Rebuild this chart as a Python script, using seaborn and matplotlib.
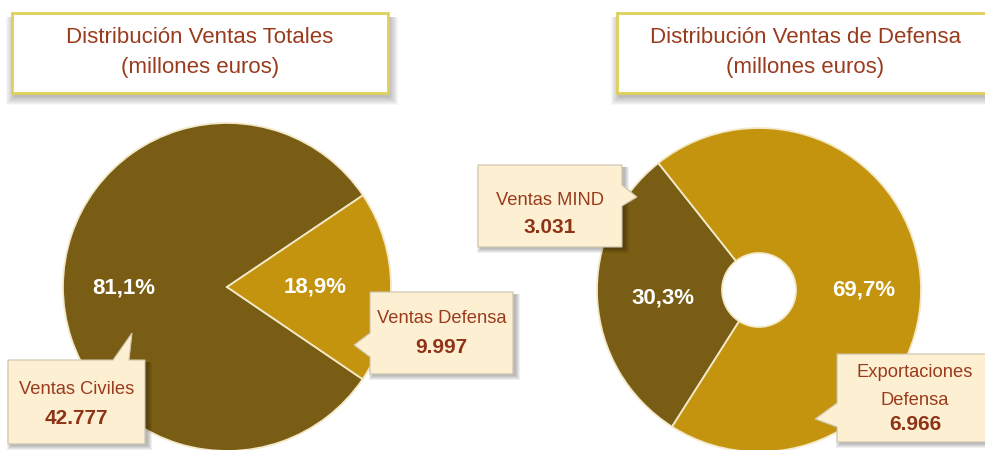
import numpy as np
import pandas as pd
import matplotlib
matplotlib.use("Agg")
import matplotlib.pyplot as plt
import seaborn as sns
from matplotlib import font_manager
from matplotlib.patches import Rectangle, Polygon

# Data
total_labels = ['Ventas Civiles', 'Ventas Defensa']
total_values = [42777, 9997]
defensa_labels = ['Ventas MIND', 'Exportaciones\nDefensa']
defensa_values = [3031, 6966]
titles = ['Distribución Ventas Totales\n(millones euros)',
          'Distribución Ventas de Defensa\n(millones euros)']

# Colours
dark = '#7a5d14'
gold = '#c4940e'
text_red = '#9b3b1e'
cream = '#fdf0d2'

sns.set_theme(style='white')
names = {f.name for f in font_manager.fontManager.ttflist}
narrow = 'Liberation Sans Narrow' in names
label_font = 'Liberation Sans Narrow' if narrow else 'Liberation Sans'
plt.rcParams['font.family'] = [label_font, 'DejaVu Sans']
title_size = 17 if narrow else 16
call_size = 16 if narrow else 13.2
num_size = 16 if narrow else 15

W, H = 985, 450
fig = plt.figure(figsize=(9.85, 4.5), dpi=100)
ax = fig.add_axes([0, 0, 1, 1])


def Y(y):
    return H - y


def shadow(x0, y0, x1, y1, steps=7, alpha=0.035, dx=2, dy=3):
    for k in range(steps):
        ax.add_patch(Rectangle((x0 - k + dx, Y(y1 + dy + k)), (x1 - x0) + 2 * k,
                               (y1 - y0) + k, facecolor='black', edgecolor='none',
                               alpha=alpha, zorder=1))


def callout(x0, y0, x1, y1, pointer, lines, zorder=5):
    # pointer: side of the box and three outline points (image coords)
    shadow(x0, y0, x1, y1, steps=5, alpha=0.06, dx=3, dy=2)
    side, pts = pointer
    if side == 'top':
        outline = [(x0, y0)] + pts + [(x1, y0), (x1, y1), (x0, y1)]
    elif side == 'right':
        outline = [(x0, y0), (x1, y0)] + pts + [(x1, y1), (x0, y1)]
    else:
        outline = [(x0, y0), (x1, y0), (x1, y1), (x0, y1)] + pts[::-1]
    ax.add_patch(Polygon([(x, Y(y)) for x, y in outline], closed=True,
                         facecolor=cream, edgecolor='#cbc3ab', linewidth=0.8,
                         zorder=zorder))
    cx = (x0 + x1) / 2
    for txt, yb, bold in lines:
        if bold:
            ax.text(cx, Y(yb), txt, ha='center', va='baseline', color='#8f3317',
                    fontsize=num_size, fontweight='bold', zorder=zorder + 1)
        else:
            ax.text(cx, Y(yb), txt, ha='center', va='baseline', color=text_red,
                    fontsize=call_size, zorder=zorder + 1)


def fmt_num(v):
    return f'{v:,}'.replace(',', '.')


def fmt_pct(v, tot):
    return f'{100 * v / tot:.1f}%'.replace('.', ',')


# Title boxes
for (x0, x1), title in zip([(12, 388), (617, 993)], titles):
    shadow(x0, 13, x1, 93, steps=9, alpha=0.03, dy=4)
    ax.add_patch(Rectangle((x0, Y(93)), x1 - x0, 80, facecolor='white',
                           edgecolor='#e0d05a', linewidth=2.0, zorder=2))
    l1, l2 = title.split('\n')
    cx = (x0 + x1) / 2
    ax.text(cx, Y(43), l1, ha='center', va='baseline', color=text_red,
            fontsize=title_size, zorder=3)
    ax.text(cx, Y(73), l2, ha='center', va='baseline', color=text_red,
            fontsize=title_size, zorder=3)

# Left pie
edge = dict(edgecolor='#f3e9c8', linewidth=1.3)
ax.pie(total_values, colors=[dark, gold], startangle=34, center=(227, Y(287)),
       radius=164, wedgeprops=edge)
# Right pie (donut)
ax.pie(defensa_values, colors=[dark, gold], startangle=128.4, center=(759, Y(290)),
       radius=162, wedgeprops=dict(width=125, **edge))

pct_font = dict(color='white', fontsize=16, fontweight='bold', ha='center',
                va='center', family='Liberation Sans', zorder=4)
tot = sum(total_values)
ax.text(124, Y(288), fmt_pct(total_values[0], tot), **pct_font)
ax.text(315, Y(287), fmt_pct(total_values[1], tot), **pct_font)
tot = sum(defensa_values)
ax.text(663, Y(298), fmt_pct(defensa_values[0], tot), **pct_font)
ax.text(864, Y(290), fmt_pct(defensa_values[1], tot), **pct_font)

# Callouts
callout(8, 360, 145, 444, ('top', [(113, 360), (132, 333), (129, 360)]),
        [(total_labels[0], 394, False), (fmt_num(total_values[0]), 424, True)])
callout(370, 292, 513, 374, ('left', [(370, 333), (354, 345), (370, 357)]),
        [(total_labels[1], 323, False), (fmt_num(total_values[1]), 353, True)])
callout(478, 165, 622, 247, ('right', [(622, 185), (637, 197), (622, 206)]),
        [(defensa_labels[0], 205, False), (fmt_num(defensa_values[0]), 233, True)])
l1, l2 = defensa_labels[1].split('\n')
callout(837, 354, 993, 442, ('left', [(837, 403), (815, 419), (837, 427)]),
        [(l1, 377, False), (l2, 405, False), (fmt_num(defensa_values[1]), 430, True)])

ax.set_xlim(0, W)
ax.set_ylim(0, H)
ax.set_aspect('equal')
ax.axis('off')
fig.savefig('out.png', dpi=100, facecolor='white')
